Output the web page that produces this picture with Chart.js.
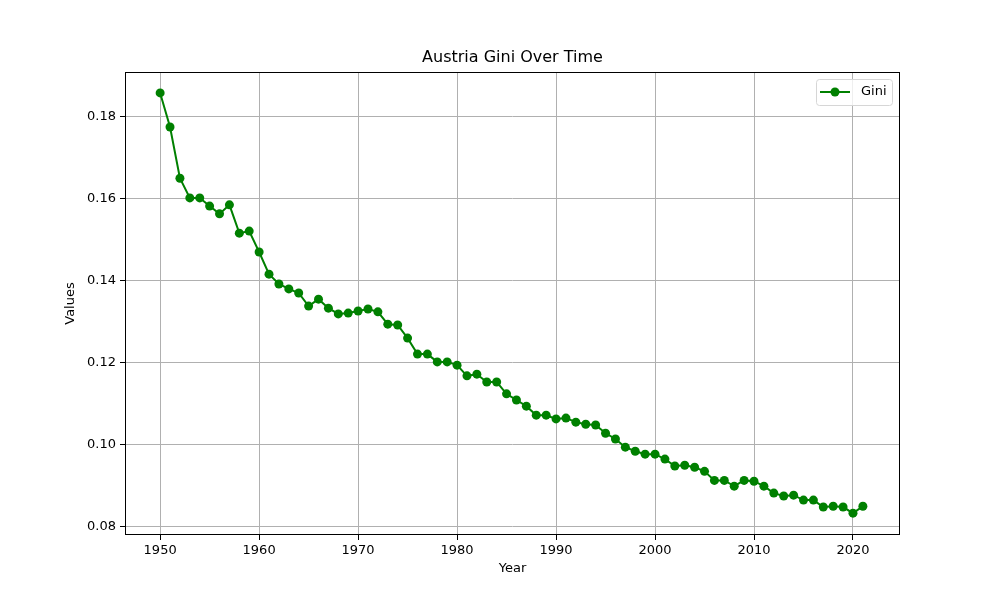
<!DOCTYPE html>
<html>
<head>
<meta charset="utf-8">
<script src="https://cdn.jsdelivr.net/npm/chart.js@4.4.1/dist/chart.umd.min.js"></script>
<style>
	html, body { margin: 0; padding: 0; background: #fff; }
	#wrap { width: 1000px; height: 600px; }
</style>
</head>
<body>
<div id="wrap"><canvas id="line-1" width="1000" height="600"></canvas></div>
<script>
const years = [];
for (let y = 1950; y <= 2021; y++) years.push(y);

const gini = [
	0.1858, 0.1775, 0.1650, 0.1602, 0.1602, 0.1582, 0.1563, 0.1585, 0.1516, 0.1521,
	0.1470, 0.1416, 0.1392, 0.1380, 0.1370, 0.1338, 0.1355, 0.1333, 0.1319, 0.1321,
	0.1326, 0.1331, 0.1324, 0.1294, 0.1292, 0.1260, 0.1221, 0.1221, 0.1202, 0.1202,
	0.1194, 0.1168, 0.1172, 0.1153, 0.1153, 0.1124, 0.1109, 0.1094, 0.1072, 0.1072,
	0.1063, 0.1065, 0.1055, 0.1050, 0.1048, 0.1028, 0.1014, 0.0994, 0.0984, 0.0977,
	0.0977, 0.0965, 0.0948, 0.0950, 0.0945, 0.0935, 0.0913, 0.0913, 0.0899, 0.0913,
	0.0911, 0.0899, 0.0882, 0.0875, 0.0877, 0.0865, 0.0865, 0.0848, 0.0850, 0.0848,
	0.0833, 0.0850
];

const xTicks = [1950, 1960, 1970, 1980, 1990, 2000, 2010, 2020];
const yTicks = [0.08, 0.10, 0.12, 0.14, 0.16, 0.18];

const titleText = "Austria Gini Over Time";
const xTitle = "Year";
const yTitle = "Values";
const seriesLabel = "Gini";
const green = "#008000";
const font = "DejaVu Sans";

// frame, titles and legend drawn the matplotlib way
const extras = {
	id: "extras",
	afterDraw(chart) {
		const ctx = chart.ctx;
		const a = chart.chartArea;
		ctx.save();
		ctx.strokeStyle = "#000";
		ctx.lineWidth = 1;
		ctx.strokeRect(a.left + 0.5, a.top + 0.5, a.right - a.left - 1, a.bottom - a.top - 1);

		ctx.fillStyle = "#000";
		ctx.font = `16px "${font}"`;
		ctx.textAlign = "center";
		ctx.textBaseline = "middle";
		ctx.fillText(titleText, (a.left + a.right) / 2, 58);

		ctx.font = `13px "${font}"`;
		ctx.fillText(xTitle, (a.left + a.right) / 2, 569);
		ctx.save();
		ctx.translate(71, (a.top + a.bottom) / 2);
		ctx.rotate(-Math.PI / 2);
		ctx.fillText(yTitle, 0, 0);
		ctx.restore();

		// legend box
		const bx = 816, by = 79, bw = 76, bh = 26;
		ctx.fillStyle = "rgba(255,255,255,0.8)";
		ctx.strokeStyle = "#d6d6d6";
		ctx.lineWidth = 1;
		ctx.beginPath();
		ctx.roundRect(bx + 0.5, by + 0.5, bw, bh, 3);
		ctx.fill();
		ctx.stroke();
		ctx.strokeStyle = green;
		ctx.lineWidth = 2;
		ctx.beginPath();
		ctx.moveTo(820, 92);
		ctx.lineTo(850, 92);
		ctx.stroke();
		ctx.fillStyle = green;
		ctx.beginPath();
		ctx.arc(835, 92, 4.5, 0, Math.PI * 2);
		ctx.fill();
		ctx.fillStyle = "#000";
		ctx.textAlign = "left";
		ctx.fillText(seriesLabel, 861, 92);
		ctx.restore();
	}
};

const config_l1 = {
	type: "line",
	data: {
		datasets: [{
			label: seriesLabel,
			data: years.map((y, i) => ({ x: y, y: gini[i] })),
			borderColor: green,
			backgroundColor: green,
			borderWidth: 2,
			pointRadius: 4.5,
			pointHoverRadius: 4.5,
			pointBorderWidth: 0,
			tension: 0,
		}],
	},
	options: {
		responsive: false,
		animation: false,
		layout: { padding: { top: 72, right: 100, left: 0, bottom: 0 } },
		plugins: {
			legend: { display: false },
			title: { display: false },
			tooltip: { enabled: false },
		},
		scales: {
			x: {
				type: "linear",
				min: 1946.45,
				max: 2024.75,
				afterBuildTicks: (s) => { s.ticks = xTicks.map((v) => ({ value: v })); },
				afterFit: (s) => { s.height = 65; },
				grid: { color: "#b0b0b0", tickColor: "#000", tickLength: 5, lineWidth: 1 },
				border: { display: false },
				ticks: { color: "#000", font: { family: font, size: 13 }, padding: 3, callback: (v) => String(v) },
			},
			y: {
				min: 0.07798,
				max: 0.1909,
				afterBuildTicks: (s) => { s.ticks = yTicks.map((v) => ({ value: v })); },
				afterFit: (s) => { s.width = 125; },
				grid: { color: "#b0b0b0", tickColor: "#000", tickLength: 5, lineWidth: 1 },
				border: { display: false },
				ticks: { color: "#000", font: { family: font, size: 13 }, padding: 4, callback: (v) => v.toFixed(2) },
			},
		},
	},
	plugins: [extras],
};

new Chart(document.getElementById("line-1"), config_l1);
</script>
</body>
</html>
